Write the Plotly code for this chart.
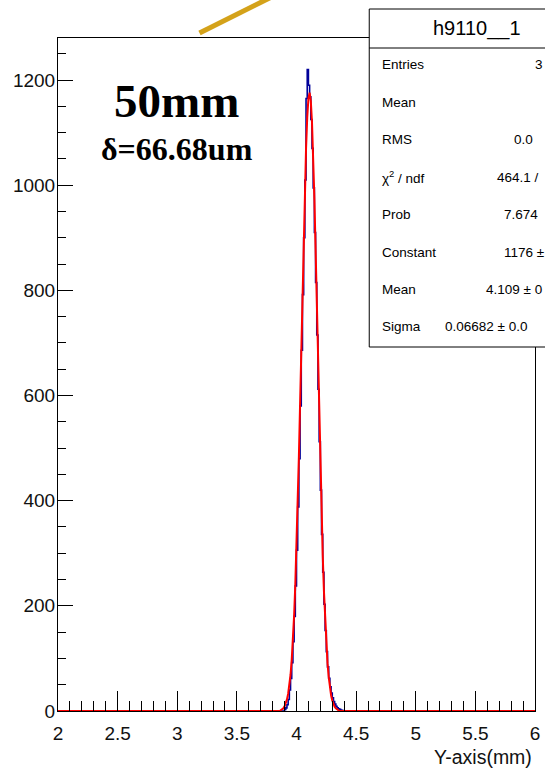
import plotly.graph_objects as go

# ---------------- data ----------------
x_min, x_max = 2.0, 6.0
bin_width = 0.01
first_edge = 3.90
# histogram counts for bins starting at 3.90, width 0.01
counts = [3, 6, 12, 22, 40, 62, 92, 132, 180, 238, 306, 388, 480, 580, 686,
          792, 900, 1010, 1165, 1220, 1190, 1168, 1125, 1070, 995, 910, 815,
          715, 612, 512, 420, 336, 264, 203, 153, 113, 84, 62, 46, 34, 25,
          18, 13, 9, 6, 4, 3, 2, 1, 1]

fit_x = [2.0, 3.86, 3.87, 3.88, 3.89, 3.90, 3.91, 3.92, 3.93, 3.94, 3.95, 3.96,
         3.97, 3.98, 3.99, 4.00, 4.01, 4.02, 4.03, 4.04, 4.05, 4.06, 4.07,
         4.08, 4.09, 4.10, 4.11, 4.12, 4.13, 4.14, 4.15, 4.16, 4.17, 4.18,
         4.19, 4.20, 4.21, 4.22, 4.23, 4.24, 4.25, 4.26, 4.27, 4.28, 4.29,
         4.30, 4.31, 4.32, 4.33, 4.34, 4.35, 4.36, 6.0]
fit_y = [0, 0, 2, 3, 5, 9, 14, 22, 33, 48, 69, 98, 135, 182, 241, 311, 392,
         484, 584, 690, 796, 899, 992, 1070, 1129, 1165, 1176, 1160, 1119,
         1056, 974, 879, 775, 669, 564, 465, 375, 296, 228, 172, 127, 91, 65,
         45, 30, 20, 13, 8, 5, 3, 2, 0, 0]

stat_title = "h9110__1"
stat_labels = ["Entries", "Mean", "RMS", "χ<sup>2</sup> / ndf", "Prob",
               "Constant", "Mean", "Sigma"]
stat_values = ["3", "", "0.0", "464.1 /", "7.674", "1176 ±", "4.109 ± 0",
               "0.06682 ± 0.0"]
stat_value_px = [538, 540, 517, 500, 507, 507, 488, 447]

x_ticks = [2, 2.5, 3, 3.5, 4, 4.5, 5, 5.5, 6]
x_ticklabels = ["2", "2.5", "3", "3.5", "4", "4.5", "5", "5.5", "6"]
y_ticks = [0, 200, 400, 600, 800, 1000, 1200]

# ---------------- geometry helpers ----------------
W, H = 545, 769
L, R, T, B = 58, 540, 38, 711


def px(x):
    return (x - L) / (R - L)


def py(y):
    return (B - y) / (B - T)


# step histogram points
edges = [round(first_edge + bin_width * i, 2) for i in range(len(counts) + 1)]
hx = [x_min] + edges + [x_max]
hy = [0] + counts + [0, 0]

fig = go.Figure()
fig.add_trace(go.Scatter(x=hx, y=hy, mode="lines", line_shape="hv",
                         line=dict(color="#000099", width=1.6),
                         hoverinfo="skip", showlegend=False))
fig.add_trace(go.Scatter(x=fit_x, y=fit_y, mode="lines",
                         line=dict(color="#ff0000", width=2),
                         hoverinfo="skip", showlegend=False))

font_sans = "Liberation Sans, Arial, Helvetica, sans-serif"

fig.update_layout(
    width=W, height=H,
    margin=dict(l=L, r=W - R, t=T, b=H - B),
    paper_bgcolor="white", plot_bgcolor="white",
    font=dict(family=font_sans, size=16, color="black"),
    xaxis=dict(range=[x_min, x_max], tickvals=x_ticks, ticktext=x_ticklabels,
               ticks="inside", ticklen=20, tickwidth=1, tickcolor="black",
               minor=dict(dtick=0.1, ticks="inside", ticklen=10,
                          tickcolor="black", tickwidth=1),
               showline=True, linecolor="black", linewidth=1, mirror=True,
               showgrid=False, zeroline=False, ticklabelstandoff=5,
               ticklabeloverflow="allow",
               tickfont=dict(size=19, family=font_sans, color="#111")),
    yaxis=dict(range=[0, 1280], tickvals=y_ticks,
               ticks="inside", ticklen=15, tickwidth=1, tickcolor="black",
               minor=dict(dtick=50, ticks="inside", ticklen=8,
                          tickcolor="black", tickwidth=1),
               showline=True, linecolor="black", linewidth=1, mirror=True,
               showgrid=False, zeroline=False, ticklabelstandoff=-2,
               ticklabeloverflow="allow",
               tickfont=dict(size=19, family=font_sans, color="#111")),
)

shapes = []
# golden line at top
shapes.append(dict(type="line", xref="paper", yref="paper",
                   x0=px(201), y0=py(33), x1=px(292), y1=py(-12),
                   line=dict(color="#D4A21A", width=5), layer="above"))
# stats box
shapes.append(dict(type="rect", xref="paper", yref="paper",
                   x0=px(372.5), x1=px(570), y0=py(347), y1=py(9),
                   fillcolor="white", line=dict(color="black", width=1),
                   layer="above"))
shapes.append(dict(type="line", xref="paper", yref="paper",
                   x0=px(372.5), x1=px(570), y0=py(48), y1=py(48),
                   line=dict(color="black", width=1), layer="above"))
fig.update_layout(shapes=shapes)

ann = []
ann.append(dict(text=stat_title, xref="paper", yref="paper", x=px(481),
                y=py(28), xanchor="center", yanchor="middle", showarrow=False,
                font=dict(size=20, family=font_sans, color="black")))
for i, (lab, val, vx) in enumerate(zip(stat_labels, stat_values, stat_value_px)):
    yy = 65 + i * 37.4
    ann.append(dict(text=lab, xref="paper", yref="paper", x=px(383),
                    y=py(yy), xanchor="left", yanchor="middle",
                    showarrow=False,
                    font=dict(size=13.5, family=font_sans, color="black")))
    if val:
        ann.append(dict(text=val, xref="paper", yref="paper", x=px(vx),
                        y=py(yy), xanchor="left", yanchor="middle",
                        showarrow=False,
                        font=dict(size=13.5, family=font_sans, color="black")))

font_serif = "Liberation Serif, Times New Roman, serif"
ann.append(dict(text="<b>50mm</b>", xref="paper", yref="paper", x=px(178),
                y=py(101), xanchor="center", yanchor="middle",
                showarrow=False,
                font=dict(size=47, family=font_serif, color="black")))
ann.append(dict(text="<b>δ=66.68um</b>", xref="paper", yref="paper",
                x=px(178), y=py(149), xanchor="center", yanchor="middle",
                showarrow=False,
                font=dict(size=32, family=font_serif, color="black")))
ann.append(dict(text="Y-axis(mm)", xref="paper", yref="paper", x=px(539),
                y=py(757), xanchor="right", yanchor="middle",
                showarrow=False, xshift=0,
                font=dict(size=19.5, family=font_sans, color="#111")))
fig.update_layout(annotations=ann)

fig.write_html("out.html")
